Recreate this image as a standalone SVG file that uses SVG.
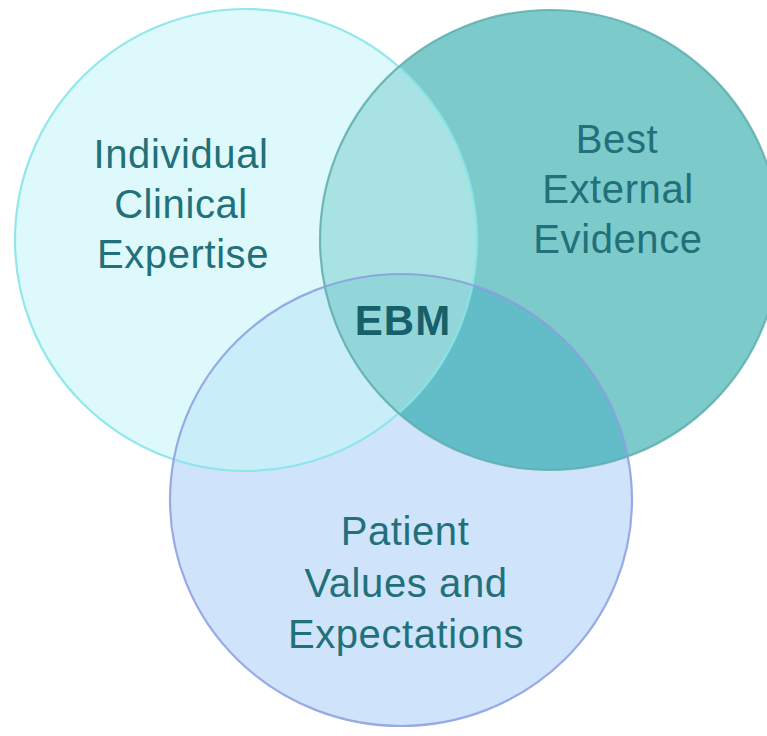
<svg xmlns="http://www.w3.org/2000/svg" width="767" height="736" viewBox="0 0 767 736">
  <style>
    .lbl { font-family: "Liberation Sans", Arial, sans-serif; font-size: 40px; fill: #21707a; text-anchor: middle; letter-spacing: 0.6px; }
    .ebm { font-family: "Liberation Sans", Arial, sans-serif; font-size: 42px; font-weight: bold; fill: #17606a; text-anchor: middle; letter-spacing: 1px; }
    .edge { fill: none; stroke-width: 2.2; }
  </style>
  <defs>
    <clipPath id="clipL"><circle cx="246" cy="240" r="231"/></clipPath>
    <clipPath id="clipR"><circle cx="550" cy="240" r="230"/></clipPath>
    <clipPath id="clipB"><ellipse cx="401" cy="500" rx="231" ry="226"/></clipPath>
  </defs>
  <rect width="767" height="736" fill="#ffffff"/>

  <!-- base fills -->
  <g id="fills">
    <circle cx="246" cy="240" r="231" fill="#def9fb"/>
    <circle cx="550" cy="240" r="230" fill="#7ccaca"/>
    <ellipse cx="401" cy="500" rx="231" ry="226" fill="#cfe3fa"/>
    <!-- overlaps -->
    <g clip-path="url(#clipL)">
      <circle cx="550" cy="240" r="230" fill="#a8e2e2"/>
      <ellipse cx="401" cy="500" rx="231" ry="226" fill="#c9edf9"/>
    </g>
    <g clip-path="url(#clipR)">
      <ellipse cx="401" cy="500" rx="231" ry="226" fill="#62bdc8"/>
    </g>
    <g clip-path="url(#clipR)">
      <g clip-path="url(#clipL)">
        <ellipse cx="401" cy="500" rx="231" ry="226" fill="#92d6d9"/>
      </g>
    </g>
  </g>

  <g id="node-expertise">
    <circle class="edge" cx="246" cy="240" r="231" stroke="#86e6e9" stroke-opacity="0.9"/>
    <text class="lbl" x="181" y="168">Individual</text>
    <text class="lbl" x="181" y="218">Clinical</text>
    <text class="lbl" x="183" y="268">Expertise</text>
  </g>

  <g id="node-evidence">
    <circle class="edge" cx="550" cy="240" r="230" stroke="#5eaeae" stroke-opacity="0.85"/>
    <text class="lbl" x="617" y="153">Best</text>
    <text class="lbl" x="618" y="203">External</text>
    <text class="lbl" x="618" y="253">Evidence</text>
  </g>

  <g id="node-patient">
    <ellipse class="edge" cx="401" cy="500" rx="231" ry="226" stroke="#8a9de0" stroke-opacity="0.85"/>
    <text class="lbl" x="405" y="545">Patient</text>
    <text class="lbl" x="406" y="597">Values and</text>
    <text class="lbl" x="406" y="648">Expectations</text>
  </g>

  <g id="node-ebm">
    <text class="ebm" x="403" y="335">EBM</text>
  </g>

  <g id="connectors"></g>
</svg>
